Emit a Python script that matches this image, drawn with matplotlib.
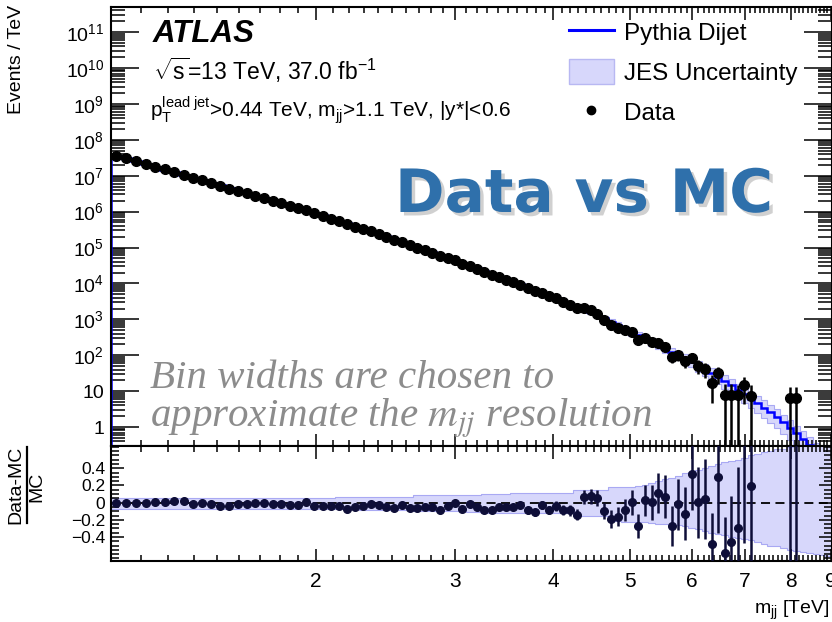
import numpy as np
import matplotlib
matplotlib.use('Agg')
import matplotlib.pyplot as plt
from matplotlib import patheffects
from matplotlib.lines import Line2D
from matplotlib.patches import Patch
from matplotlib.ticker import FixedLocator, FuncFormatter, LogLocator, NullFormatter, MultipleLocator

plt.rcParams['font.family'] = ['Liberation Sans', 'DejaVu Sans']
plt.rcParams['mathtext.fontset'] = 'custom'
plt.rcParams['mathtext.rm'] = 'Liberation Sans'
plt.rcParams['mathtext.it'] = 'Liberation Sans:italic'
plt.rcParams['mathtext.bf'] = 'Liberation Sans:bold'

# dijet mass bin edges [GeV]
mjj_edges = [1100, 1133, 1166, 1200, 1234, 1269, 1305, 1341, 1378, 1416,
             1454, 1493, 1533, 1573, 1614, 1656, 1698, 1741, 1785, 1830,
             1875, 1921, 1968, 2016, 2065, 2114, 2164, 2215, 2267, 2320,
             2374, 2429, 2485, 2542, 2600, 2659, 2719, 2780, 2842, 2905,
             2969, 3034, 3100, 3167, 3235, 3305, 3376, 3448, 3521, 3596,
             3672, 3749, 3827, 3907, 3988, 4070, 4154, 4239, 4326, 4414,
             4504, 4595, 4688, 4782, 4878, 4975, 5074, 5175, 5277, 5381,
             5487, 5595, 5705, 5817, 5931, 6047, 6165, 6285, 6407, 6531,
             6658, 6787, 6918, 7052, 7188, 7326, 7467, 7610, 7756, 7904,
             8055, 8208, 8364, 8523, 8685, 8850, 9019]

# Pythia dijet prediction [events / TeV]
mc_density = [3.63e7, 3.02e7, 2.52e7, 2.11e7, 1.77e7, 1.48e7, 1.25e7, 1.05e7, 8.85e6, 7.46e6,
              6.32e6, 5.35e6, 4.53e6, 3.85e6, 3.27e6, 2.79e6, 2.38e6, 2.03e6, 1.73e6, 1.48e6,
              1.27e6, 1.09e6, 9.35e5, 7.89e5, 6.65e5, 5.60e5, 4.74e5, 4.01e5, 3.39e5, 2.87e5,
              2.43e5, 2.06e5, 1.75e5, 1.47e5, 1.23e5, 1.04e5, 8.75e4, 7.38e4, 6.22e4, 5.26e4,
              4.45e4, 3.74e4, 3.14e4, 2.65e4, 2.23e4, 1.87e4, 1.58e4, 1.34e4, 1.13e4, 9510,
              8020, 6790, 5740, 4860, 4090, 3400, 2840, 2360, 1970, 1640,
              1340, 1080, 867, 698, 562, 454, 366, 296, 239, 194,
              156, 125, 100, 80.4, 64.4, 50.8, 40.0, 31.6, 24.9, 19.0,
              14.4, 10.8, 8.20, 6.15, 4.62, 3.48, 2.61, 1.95, 1.35, 0.95,
              0.66, 0.45, 0.31, 0.21, 0.14, 0.095]

# (Data - MC) / MC per bin, -1 means an empty bin
ratio = [-0.01, 0.0, 0.0, 0.0, 0.005, 0.01, 0.015, 0.02, -0.015, -0.01,
         -0.015, -0.035, -0.035, -0.02, -0.015, -0.01, -0.005, -0.02, -0.015, -0.03,
         -0.03, 0.005, -0.04, -0.04, -0.035, -0.035, -0.07, -0.045, -0.035, -0.02,
         -0.025, -0.045, -0.06, -0.03, -0.06, -0.065, -0.055, -0.045, -0.08, -0.035,
         0.0, -0.07, -0.02, -0.045, -0.085, -0.085, -0.045, -0.055, -0.055, -0.03,
         -0.09, -0.11, -0.03, -0.085, -0.04, -0.085, -0.09, -0.14, 0.065, 0.075,
         0.055, -0.095, -0.19, -0.164, -0.083, 0.002, -0.27, 0.026, 0.004, 0.117,
         0.068, -0.273, -0.018, -0.128, 0.339, 0.002, 0.042, -0.482, 0.295, -0.585,
         -0.462, -0.293, 0.82, 0.196, -1, -1, -1, -1, -1, 5.97,
         8.90, -1, -1, -1, -1, -1]

# relative JES uncertainty on the prediction
jes_up = [0.050, 0.050, 0.050, 0.050, 0.050, 0.050, 0.052, 0.052, 0.052, 0.052,
          0.052, 0.052, 0.054, 0.054, 0.054, 0.055, 0.055, 0.056, 0.056, 0.056,
          0.057, 0.057, 0.058, 0.058, 0.058, 0.060, 0.060, 0.060, 0.062, 0.062,
          0.064, 0.064, 0.066, 0.068, 0.070, 0.085, 0.085, 0.086, 0.086, 0.088,
          0.088, 0.090, 0.090, 0.092, 0.105, 0.105, 0.106, 0.106, 0.107, 0.107,
          0.108, 0.108, 0.110, 0.110, 0.112, 0.112, 0.114, 0.145, 0.145, 0.148,
          0.148, 0.150, 0.180, 0.182, 0.185, 0.188, 0.195, 0.21, 0.23, 0.25,
          0.27, 0.29, 0.31, 0.34, 0.36, 0.38, 0.40, 0.43, 0.45, 0.47,
          0.49, 0.50, 0.52, 0.55, 0.57, 0.59, 0.60, 0.62, 0.63, 0.65,
          0.67, 0.69, 0.71, 0.73, 0.75, 0.77]
jes_down = [0.070, 0.070, 0.070, 0.070, 0.070, 0.070, 0.071, 0.071, 0.071, 0.072,
            0.072, 0.072, 0.073, 0.073, 0.073, 0.075, 0.075, 0.075, 0.076, 0.076,
            0.076, 0.077, 0.077, 0.078, 0.078, 0.078, 0.079, 0.079, 0.080, 0.080,
            0.082, 0.082, 0.084, 0.086, 0.088, 0.100, 0.100, 0.101, 0.101, 0.102,
            0.102, 0.103, 0.104, 0.105, 0.118, 0.118, 0.119, 0.120, 0.120, 0.121,
            0.122, 0.122, 0.123, 0.124, 0.124, 0.125, 0.126, 0.155, 0.156, 0.157,
            0.158, 0.160, 0.215, 0.218, 0.220, 0.222, 0.225, 0.23, 0.24, 0.245,
            0.25, 0.255, 0.26, 0.27, 0.29, 0.31, 0.33, 0.35, 0.37, 0.38,
            0.40, 0.41, 0.42, 0.44, 0.46, 0.48, 0.50, 0.51, 0.53, 0.55,
            0.56, 0.58, 0.59, 0.60, 0.61, 0.62]

mass_ticks = [2, 3, 4, 5, 6, 7, 8, 9]
ratio_ticks = [-0.4, -0.2, 0, 0.2, 0.4]

edges = np.array(mjj_edges) / 1000.0
widths = np.diff(edges)
centers = 0.5 * (edges[:-1] + edges[1:])
mc = np.array(mc_density)
r = np.array(ratio)
up = np.array(jes_up)
down = np.array(jes_down)

data = mc * (1 + r)
counts = data * widths
filled = counts > 0.5
data_err = np.sqrt(counts) / widths
ratio_err = np.sqrt(counts) / (mc * widths)

band_face = '#d7d7fb'
band_edge = '#a9a9f3'

W, H = 832, 622
fig = plt.figure(figsize=(W / 100, H / 100), dpi=100)
ax1 = fig.add_axes([111 / W, 1 - 446 / H, 721 / W, 439 / H])
ax2 = fig.add_axes([111 / W, 1 - 561 / H, 721 / W, 115 / H], sharex=ax1)

# ---- main panel
ax1.set_xscale('log')
ax1.set_yscale('log', nonpositive='clip')
ax1.stairs(mc * (1 + up), edges, baseline=mc * (1 - down), fill=True, color=band_face, lw=0, zorder=1)
ax1.stairs(mc * (1 + up), edges, baseline=None, color=band_edge, lw=0.8, zorder=1.5)
ax1.stairs(mc * (1 - down), edges, baseline=None, color=band_edge, lw=0.8, zorder=1.5)
ax1.stairs(mc, edges, baseline=1e-3, color='#0000ff', lw=1.8, zorder=2)
ax1.errorbar(centers[filled], data[filled], yerr=data_err[filled], fmt='o', color='black',
             ms=7, elinewidth=1.8, capsize=0, zorder=5)

ax1.set_xlim(1.1, 9.02)
ax1.set_ylim(0.296, 5.0e11)
ax1.yaxis.set_major_locator(LogLocator(base=10, numticks=20))
ax1.yaxis.set_minor_locator(LogLocator(base=10, subs=np.arange(2, 10), numticks=20))
ax1.yaxis.set_minor_formatter(NullFormatter())


def pow_label(v, pos):
    if v < 5:
        return '1'
    if v < 50:
        return '10'
    return r'$10^{%d}$' % round(np.log10(v))


ax1.yaxis.set_major_formatter(FuncFormatter(pow_label))

# ---- ratio panel
ax2.stairs(up, edges, baseline=-down, fill=True, color=band_face, lw=0, zorder=1)
ax2.stairs(up, edges, baseline=None, color=band_edge, lw=0.8, zorder=1.5)
ax2.stairs(-down, edges, baseline=None, color=band_edge, lw=0.8, zorder=1.5)
ax2.axhline(0, color='black', lw=1.3, ls=(0, (5, 3)), zorder=2)
ax2.errorbar(centers[filled], r[filled], yerr=ratio_err[filled], fmt='o', color='#0e0e38',
             ms=5.5, elinewidth=1.8, capsize=0, zorder=5)
ax2.set_ylim(-0.68, 0.66)
ax2.yaxis.set_major_locator(FixedLocator(ratio_ticks))
ax2.yaxis.set_minor_locator(MultipleLocator(0.05))
ax2.yaxis.set_major_formatter(FuncFormatter(
    lambda v, p: '0' if abs(v) < 1e-9 else ('%.1f' % v).replace('-', '\u2212')))

ax2.xaxis.set_major_locator(FixedLocator(mass_ticks))
ax2.xaxis.set_minor_locator(FixedLocator(np.arange(11, 91) / 10.0))
ax2.xaxis.set_major_formatter(FuncFormatter(lambda v, p: '%d' % round(v)))
ax2.xaxis.set_minor_formatter(NullFormatter())

for ax in (ax1, ax2):
    for sp in ax.spines.values():
        sp.set_linewidth(1.5)
    ax.tick_params(which='both', direction='in', top=True, right=True, width=1.1)
    ax.tick_params(axis='x', which='major', length=9)
    ax.tick_params(axis='x', which='minor', length=4.5)
ax1.tick_params(axis='y', which='major', length=20, labelsize=14, pad=5)
ax1.tick_params(axis='y', which='minor', length=10)
ax1.tick_params(axis='x', labelbottom=False)
ax2.tick_params(axis='y', which='major', length=9.5, labelsize=12.5, pad=4)
ax2.tick_params(axis='y', which='minor', length=5.5)
ax2.tick_params(axis='x', labelsize=15, pad=8)

# ---- legend
h_mc = Line2D([], [], color='#0000ff', lw=2.2)
h_band = Patch(facecolor=band_face, edgecolor='#b8b8f2', lw=1)
h_data = Line2D([], [], marker='o', ls='none', color='black', ms=6)
ax1.legend([h_mc, h_band, h_data], ['Pythia Dijet', 'JES Uncertainty', 'Data'],
           loc='upper left', bbox_to_anchor=(0.635, 0.971), frameon=False,
           fontsize=17.5, handlelength=1.85, handleheight=1.2, handletextpad=0.42,
           labelspacing=0.58, borderpad=0, borderaxespad=0)

# ---- labels and annotations
def fx(px):
    return px / W


def fy(py):
    return 1 - py / H


fig.text(fx(153), fy(42), 'ATLAS', fontsize=22.5, weight='bold', style='italic', va='baseline')
fig.text(fx(153), fy(80), r'$\sqrt{\mathrm{s}}$=13 TeV, 37.0 fb$^{-1}$', fontsize=16.5, va='baseline')
fig.text(fx(150), fy(117), r'$\mathrm{p}_{\mathrm{T}}^{\mathrm{lead\ jet}}$>0.44 TeV, m$_{\mathrm{jj}}$>1.1 TeV, |y*|<0.6',
         fontsize=15, va='baseline')

fig.text(fx(395), fy(212), 'Data vs MC', fontsize=43, weight='bold', color='#2f70ab',
         family='DejaVu Sans', va='baseline',
         path_effects=[patheffects.withSimplePatchShadow(offset=(2.5, -2.5), shadow_rgbFace='#666666', alpha=0.3)])

fig.text(fx(150), fy(388), 'Bin widths are chosen to', family='Liberation Serif', style='italic',
         fontsize=29.5, color='#8c8c8c', va='baseline')
fig.text(fx(150), fy(427), r'approximate the $m_{jj}$ resolution', family='Liberation Serif', style='italic',
         fontsize=29.5, color='#8c8c8c', va='baseline', math_fontfamily='stix')

fig.text(fx(17), fy(5), 'Events / TeV', rotation=90, ha='center', va='top', fontsize=14)
fig.text(fx(830), fy(614), r'm$_{\mathrm{jj}}$ [TeV]', ha='right', va='baseline', fontsize=14)

# ratio axis title drawn as a stacked fraction
fig.text(fx(16), fy(485), 'Data-MC', rotation=90, ha='center', va='center', fontsize=14)
fig.text(fx(37), fy(487), 'MC', rotation=90, ha='center', va='center', fontsize=14)
fig.add_artist(Line2D([fx(27), fx(27)], [fy(447), fy(523)], color='black', lw=1.6))

fig.savefig('out.png', dpi=100)
